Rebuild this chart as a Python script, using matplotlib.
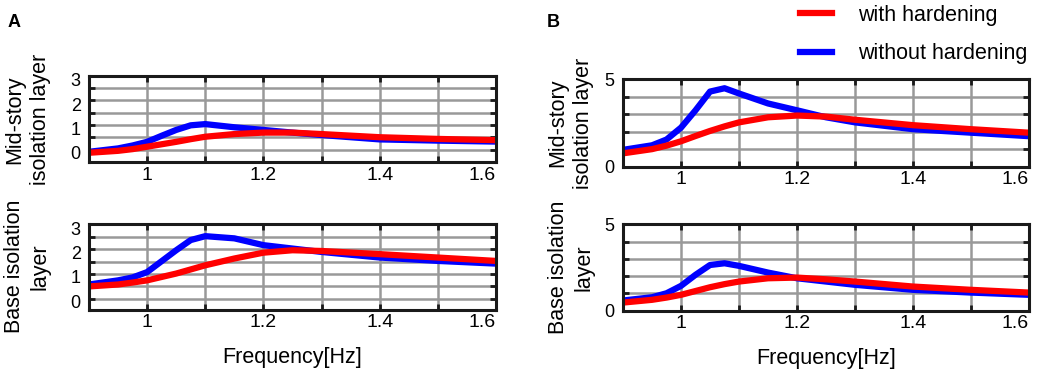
import matplotlib.pyplot as plt
import numpy as np
from matplotlib.lines import Line2D

plt.rcParams['font.family'] = ['Liberation Sans', 'DejaVu Sans']

# frequency samples [Hz]
freq = [0.9, 0.95, 0.975, 1.0, 1.025, 1.05, 1.075, 1.1, 1.15, 1.2, 1.25, 1.3, 1.4, 1.5, 1.6]

# panel A, mid-story isolation layer
a_mid_with = [0.0, 0.08, 0.15, 0.25, 0.35, 0.45, 0.56, 0.66, 0.77, 0.83, 0.83, 0.77, 0.64, 0.57, 0.52]
a_mid_without = [0.04, 0.18, 0.3, 0.45, 0.7, 0.94, 1.13, 1.18, 1.05, 0.94, 0.83, 0.73, 0.55, 0.5, 0.46]
# panel A, base isolation layer
a_base_with = [0.61, 0.69, 0.77, 0.86, 1.0, 1.14, 1.31, 1.48, 1.76, 2.0, 2.1, 2.07, 1.94, 1.8, 1.66]
a_base_without = [0.69, 0.86, 0.98, 1.2, 1.65, 2.1, 2.52, 2.68, 2.59, 2.31, 2.17, 2.03, 1.8, 1.66, 1.55]
# panel B, mid-story isolation layer
b_mid_with = [0.78, 1.02, 1.22, 1.47, 1.77, 2.06, 2.32, 2.55, 2.84, 2.94, 2.88, 2.7, 2.39, 2.16, 1.96]
b_mid_without = [0.98, 1.24, 1.57, 2.25, 3.24, 4.31, 4.5, 4.2, 3.63, 3.24, 2.84, 2.55, 2.16, 1.96, 1.76]
# panel B, base isolation layer
b_base_with = [0.46, 0.62, 0.75, 0.91, 1.13, 1.35, 1.53, 1.68, 1.87, 1.91, 1.81, 1.68, 1.39, 1.2, 1.04]
b_base_without = [0.58, 0.77, 1.0, 1.43, 2.07, 2.64, 2.74, 2.59, 2.2, 1.87, 1.68, 1.49, 1.2, 1.04, 0.91]

xticks = [1.0, 1.2, 1.4, 1.6]
xticklabels = ['1', '1.2', '1.4', '1.6']
xgrid = [1.1, 1.3, 1.5]
legend_labels = ['with hardening', 'without hardening']

RED = '#ff0000'
BLUE = '#0000ff'


def style_axes(ax, ylim, yticks, ygrid):
    ax.set_xlim(0.9, 1.6)
    ax.set_ylim(*ylim)
    ax.set_xticks(xticks)
    ax.set_xticklabels(xticklabels)
    ax.get_xticklabels()[-1].set_ha('right')
    ax.set_xticks(xgrid, minor=True)
    ax.set_yticks(yticks)
    ax.set_yticklabels([str(int(t)) for t in yticks])
    ax.set_yticks(ygrid, minor=True)
    ax.grid(True, which='both', axis='x', color='#999999', lw=1.8)
    ax.grid(True, which='minor', axis='y', color='#999999', lw=1.8)
    ax.set_axisbelow(True)
    ax.tick_params(axis='x', which='both', direction='in', top=True, length=4, width=2,
                   color='#1a1a1a', labelsize=14, pad=3)
    ax.tick_params(axis='y', which='major', length=0, labelsize=13, pad=6)
    ax.tick_params(axis='y', which='minor', direction='in', right=True, length=4, width=2,
                   color='#1a1a1a')
    for s in ax.spines.values():
        s.set_linewidth(2.2)
        s.set_color('#1a1a1a')


def draw(ax, with_h, without_h):
    ax.plot(freq, without_h, color=BLUE, lw=4.5, solid_capstyle='butt')
    ax.plot(freq, with_h, color=RED, lw=4.5, solid_capstyle='butt')


fig = plt.figure(figsize=(10.37, 3.72), dpi=100)

ax1 = fig.add_axes([0.0858, 0.5632, 0.3925, 0.2312])
ax2 = fig.add_axes([0.0858, 0.1680, 0.3925, 0.2298])
ax3 = fig.add_axes([0.6008, 0.5511, 0.3915, 0.2352])
ax4 = fig.add_axes([0.6008, 0.1653, 0.3915, 0.2317])

draw(ax1, a_mid_with, a_mid_without)
style_axes(ax1, (-0.40, 3.14), [0, 1, 2, 3], [0.12, 0.63, 1.14, 1.65, 2.17, 2.68])
draw(ax2, a_base_with, a_base_without)
style_axes(ax2, (-0.34, 3.18), [0, 1, 2, 3], [0.10, 0.61, 1.12, 1.63, 2.15, 2.66])
draw(ax3, b_mid_with, b_mid_without)
style_axes(ax3, (0, 5), [0, 5], [1, 2, 3, 4])
draw(ax4, b_base_with, b_base_without)
style_axes(ax4, (0, 5), [0, 5], [1, 2, 3, 4])

for ax, txt, xl in [(ax1, 'Mid-story\nisolation layer', -0.151),
                    (ax2, 'Base isolation\nlayer', -0.151),
                    (ax3, 'Mid-story\nisolation layer', -0.128),
                    (ax4, 'Base isolation\nlayer', -0.128)]:
    ax.set_ylabel(txt, fontsize=15.5, linespacing=1.3, va='center', ha='center')
    ax.yaxis.set_label_coords(xl, 0.5)

for ax in (ax2, ax4):
    ax.set_xlabel('Frequency[Hz]', fontsize=15.5, labelpad=12)

fig.text(0.007, 0.962, 'A', fontsize=13, fontweight='bold', va='top')
fig.text(0.527, 0.962, 'B', fontsize=13, fontweight='bold', va='top')

handles = [Line2D([], [], color=RED, lw=4.5), Line2D([], [], color=BLUE, lw=4.5)]
fig.legend(handles, legend_labels, loc='upper left', bbox_to_anchor=(0.7714, 0.987),
           frameon=False, fontsize=15.5, handlelength=1.5, handletextpad=1.2,
           labelspacing=0.8, borderpad=0, borderaxespad=0)

fig.savefig('out.png', dpi=100)
